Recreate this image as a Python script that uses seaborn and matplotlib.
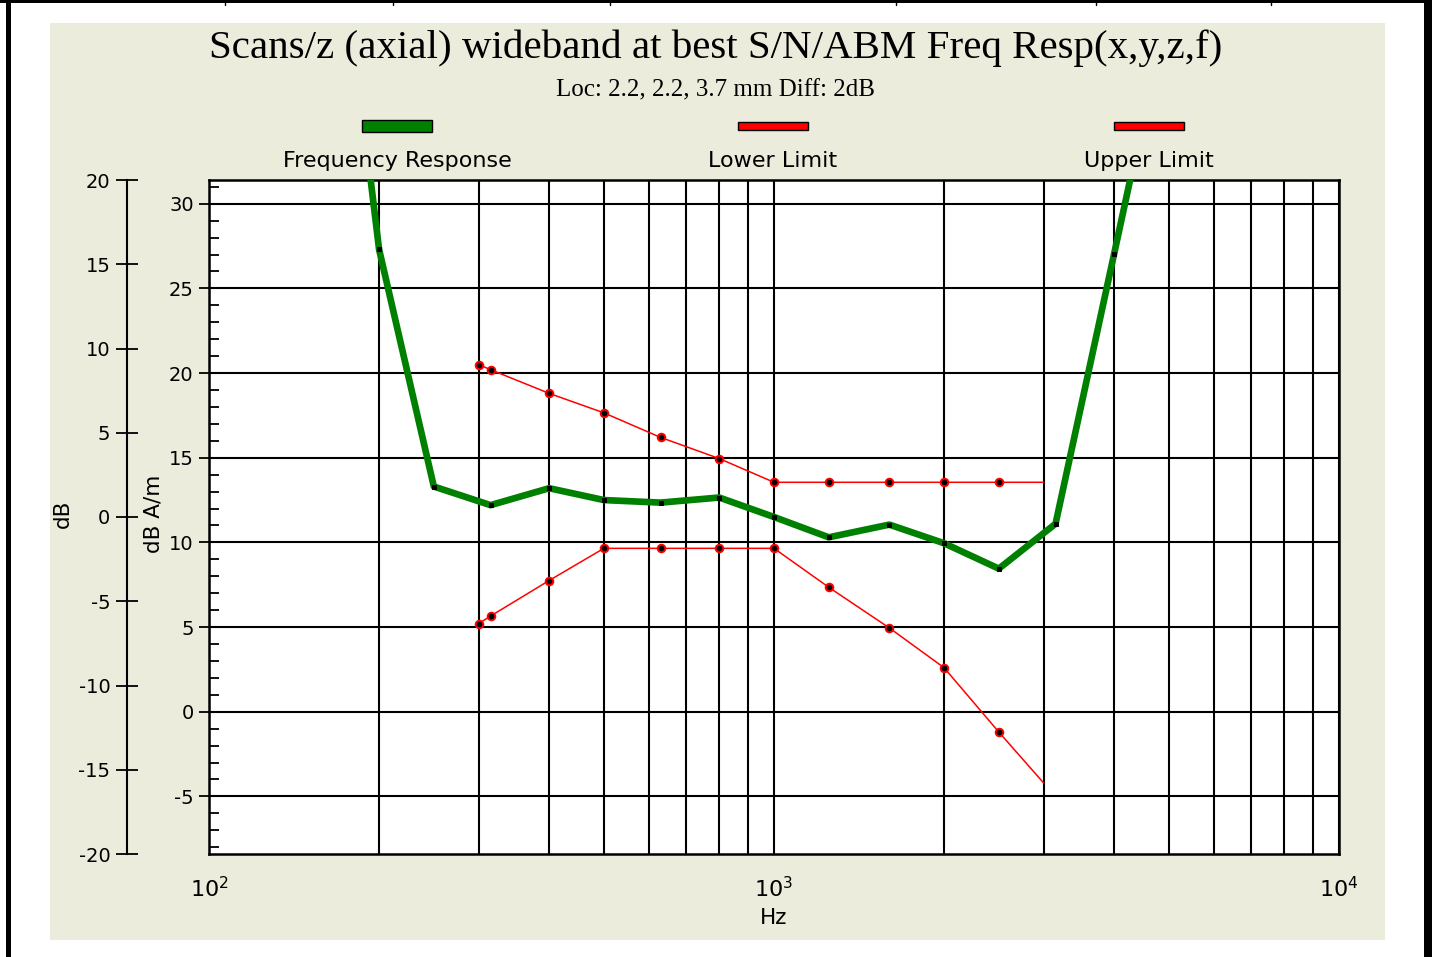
import numpy as np
import matplotlib
matplotlib.use('Agg')
import matplotlib.pyplot as plt
import seaborn as sns
from matplotlib.patches import Rectangle
from matplotlib.lines import Line2D
from matplotlib.ticker import MultipleLocator, LogLocator, NullFormatter

# dados
freq_resp_hz = [160, 200, 250, 315, 400, 500, 630, 800, 1000, 1250, 1600, 2000, 2500, 3150, 4000, 5000]
freq_resp_db = [54.0, 27.3, 13.3, 12.2, 13.2, 12.5, 12.35, 12.65, 11.5, 10.3, 11.05, 9.95, 8.45, 11.1, 27.05, 42.0]

limit_hz = [300, 315, 400, 500, 630, 800, 1000, 1250, 1600, 2000, 2500, 3000]
upper_db = [20.5, 20.2, 18.8, 17.65, 16.2, 14.95, 13.55, 13.55, 13.55, 13.55, 13.55, 13.55]
lower_db = [5.2, 5.65, 7.75, 9.65, 9.65, 9.65, 9.65, 7.35, 4.95, 2.6, -1.2, -4.2]

legend_names = ['Frequency Response', 'Lower Limit', 'Upper Limit']
legend_colors = ['#008000', '#ff0000', '#ff0000']

title = 'Scans/z (axial) wideband at best S/N/ABM Freq Resp(x,y,z,f)'
subtitle = 'Loc: 2.2, 2.2, 3.7 mm Diff: 2dB'

BEIGE = '#ECECDD'
W, H = 1432, 957


def fx(px):
    return px / W


def fy(py):
    return 1 - py / H


sns.set_style('white')
plt.rcParams['font.family'] = ['DejaVu Sans']
plt.rcParams['text.color'] = 'black'
plt.rcParams['axes.labelcolor'] = 'black'
plt.rcParams['xtick.color'] = 'black'
plt.rcParams['ytick.color'] = 'black'
plt.rcParams['axes.unicode_minus'] = False

fig = plt.figure(figsize=(W / 100, H / 100), dpi=100)
fig.patch.set_facecolor('white')

# painel bege e bordas
fig.patches.append(Rectangle((fx(50), fy(940)), fx(1385) - fx(50), fy(23) - fy(940),
                             transform=fig.transFigure, facecolor=BEIGE, edgecolor='none', zorder=-10))
fig.patches.append(Rectangle((fx(6), 0), fx(5), 1, transform=fig.transFigure,
                             facecolor='black', edgecolor='none', zorder=-10))
fig.patches.append(Rectangle((fx(1424), 0), fx(8), 1, transform=fig.transFigure,
                             facecolor='black', edgecolor='none', zorder=-10))
fig.patches.append(Rectangle((0, fy(3)), 1, fy(0) - fy(3), transform=fig.transFigure,
                             facecolor='black', edgecolor='none', zorder=-10))
for xd in [225, 393, 610, 896, 1096, 1271]:
    fig.lines.append(Line2D([fx(xd), fx(xd)], [fy(0), fy(5)], transform=fig.transFigure,
                            color='black', lw=1, zorder=-10))

ax = fig.add_axes([fx(209), fy(854), fx(1339) - fx(209), fy(180) - fy(854)])
ax.set_facecolor('white')

sns.lineplot(x=freq_resp_hz, y=freq_resp_db, ax=ax, color='#008000', lw=4.8,
             marker='s', markersize=2.5, markerfacecolor='black', markeredgecolor='black', zorder=4)

for vals in [upper_db, lower_db]:
    sns.lineplot(x=limit_hz, y=vals, ax=ax, color='#ff0000', lw=1.1, zorder=3)
    sns.scatterplot(x=limit_hz[:-1], y=vals[:-1], ax=ax, s=30, color='black',
                    edgecolor='#ff0000', linewidth=1.4, zorder=5)

ax.set_xscale('log')
ax.set_xlim(100, 10000)
ax.set_ylim(-8.4, 31.4)
ax.xaxis.set_minor_locator(LogLocator(base=10, subs=np.arange(2, 10)))
ax.xaxis.set_minor_formatter(NullFormatter())
ax.yaxis.set_major_locator(MultipleLocator(5))
ax.yaxis.set_minor_locator(MultipleLocator(1))

ax.grid(which='major', axis='both', color='black', lw=1.5)
ax.grid(which='minor', axis='x', color='black', lw=1.5)

ax.tick_params(axis='x', which='major', direction='out', length=11.5, width=1.3, pad=4, labelsize=16)
ax.tick_params(axis='x', which='minor', length=0)
ax.tick_params(axis='y', which='major', direction='out', length=7, width=1.3, pad=4, labelsize=14)
ax.tick_params(axis='y', which='minor', direction='in', length=7, width=1.3, left=True)
for s in ax.spines.values():
    s.set_color('black')
    s.set_linewidth(1.8)

ax.set_xlabel('Hz', fontsize=15.5, labelpad=5)
ax.set_ylabel('dB A/m', fontsize=15.5)
ax.yaxis.set_label_coords(-0.0407, 0.505)

# eixo externo em dB
ax2 = ax.twinx()
ax2.set_ylim(-20, 20)
ax2.yaxis.tick_left()
ax2.yaxis.set_label_position('left')
ax2.yaxis.set_major_locator(MultipleLocator(5))
for side in ['right', 'top', 'bottom']:
    ax2.spines[side].set_visible(False)
ax2.spines['left'].set_position(('axes', (127 - 209) / 1130))
ax2.spines['left'].set_linewidth(1.5)
ax2.spines['left'].set_color('black')
ax2.tick_params(axis='y', direction='inout', length=16, width=1.3, pad=4, labelsize=14)
ax2.set_ylabel('dB', fontsize=15.5)
ax2.yaxis.set_label_coords((73 - 209) / 1130, 0.505)

# titulo
fig.text(fx(716), fy(58), title, ha='center', va='baseline', fontsize=29.5,
         family='Liberation Serif')
fig.text(fx(716), fy(96), subtitle, ha='center', va='baseline', fontsize=18,
         family='Liberation Serif')

# legenda
legend_x = [397, 773, 1149]
for name, color, cx in zip(legend_names, legend_colors, legend_x):
    h = 12 if color == '#008000' else 8
    fig.patches.append(Rectangle((fx(cx - 35), fy(126 + h / 2)), fx(70), h / H,
                                 transform=fig.transFigure, facecolor=color,
                                 edgecolor='black', lw=1))
    fig.text(fx(cx), fy(167), name, ha='center', va='baseline', fontsize=16)

fig.savefig('out.png', dpi=100)
